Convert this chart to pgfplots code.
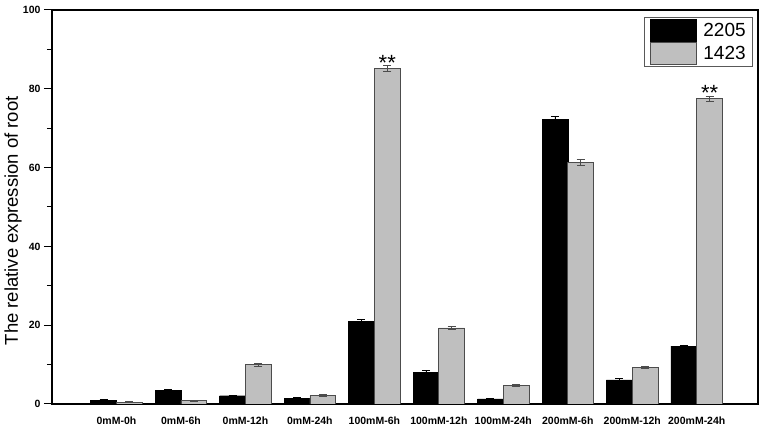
\documentclass[border=0pt]{standalone}
\usepackage{pgfplots}
\pgfplotsset{compat=1.18}
\usepackage{fontspec}
\setmainfont{Liberation Sans}
\begin{document}
\begin{tikzpicture}
\begin{axis}[
  scale only axis, width=706pt, height=394pt,
  xmin=-1, xmax=9.95, ymin=0, ymax=100,
  ybar=0pt, bar width=0.4,
  xtick=data,
  xticklabels={0mM-0h,0mM-6h,0mM-12h,0mM-24h,100mM-6h,100mM-12h,100mM-24h,200mM-6h,200mM-12h,200mM-24h},
  x tick style={draw=none},
  ytick={0,20,...,100}, minor y tick num=1,
  ytick pos=left, tick align=outside,
  major tick length=8pt, minor tick length=5pt,
  axis line style={line width=1.1pt}, every tick/.style={line width=1pt, black},
  /pgf/number format/assume math mode=true,
  yticklabel style={font=\fontsize{10.5}{12}\selectfont\bfseries},
  xticklabel style={font=\fontsize{10.5}{12}\selectfont\bfseries, yshift=-1pt},
  ylabel={The relative expression of root},
  ylabel style={at={(axis description cs:-0.055,0.465)}, anchor=center, font=\fontsize{18.5}{20}\selectfont},
  legend style={at={(rel axis cs:0.993,0.982)}, anchor=north east, draw=gray!70!black, line width=0.8pt,
    font=\fontsize{19}{21}\selectfont, inner xsep=5pt, inner ysep=2pt, row sep=0pt, cells={anchor=west},
    /tikz/every odd column/.append style={column sep=5pt}},
  legend image code/.code={\draw[#1, line width=0.6pt] (0pt,-11pt) rectangle (46pt,11pt);},
  error bars/y dir=both, error bars/y explicit,
]
\addplot[fill=black, draw=black,
  error bars/error bar style={black, line width=0.6pt}, error bars/error mark options={rotate=90, mark size=4pt, black, line width=0.6pt}]
  coordinates {(0,1.0)+-(0,0.1) (1,3.5)+-(0,0.25) (2,2.1)+-(0,0.15) (3,1.5)+-(0,0.15) (4,21.0)+-(0,0.4)
  (5,8.1)+-(0,0.35) (6,1.3)+-(0,0.1) (7,72.2)+-(0,0.7) (8,6.1)+-(0,0.4) (9,14.7)+-(0,0.3)};
\addplot[fill=gray!50, draw=gray!60!black, line width=0.8pt,
  error bars/error bar style={gray!60!black, line width=0.6pt}, error bars/error mark options={rotate=90, mark size=4pt, gray!60!black, line width=0.6pt}]
  coordinates {(0,0.5)+-(0,0.1) (1,0.85)+-(0,0.1) (2,10.0)+-(0,0.35) (3,2.2)+-(0,0.15) (4,85.2)+-(0,0.8)
  (5,19.3)+-(0,0.45) (6,4.7)+-(0,0.2) (7,61.3)+-(0,0.8) (8,9.3)+-(0,0.35) (9,77.5)+-(0,0.7)};
\legend{2205,1423}
\node[font=\fontsize{22}{24}\selectfont, anchor=base] at (axis cs:4.2,84.7) {**};
\node[font=\fontsize{22}{24}\selectfont, anchor=base] at (axis cs:9.2,77.0) {**};
\end{axis}
\pgfresetboundingbox
\path (-52pt,-24pt) rectangle (716pt,404pt);
\end{tikzpicture}
\end{document}
